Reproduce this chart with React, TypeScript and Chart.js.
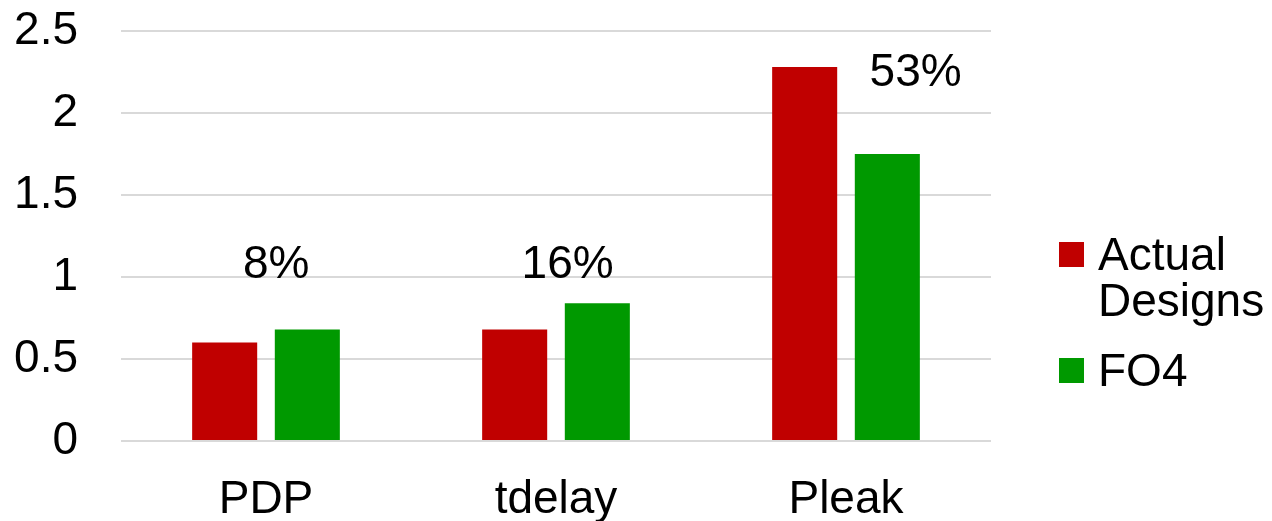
import React, { useEffect, useRef } from "react";
import { Chart, registerables } from "chart.js";

Chart.register(...registerables);

// Metrics compared on the x axis
const categories = ["PDP", "tdelay", "Pleak"];

// Series values
const actualDesigns = [0.6, 0.68, 2.28];
const fo4 = [0.68, 0.84, 1.75];

// Series names (legend)
const seriesNames = [["Actual", "Designs"], ["FO4"]];

// Y axis range and tick labels
const yMin = 0;
const yMax = 2.5;
const yStep = 0.5;
const yTickLabels = ["0", "0.5", "1", "1.5", "2", "2.5"];

// Difference labels written over each group
const gainLabels = ["8%", "16%", "53%"];
const gainLabelLevel = [1.07, 1.07, 2.24]; // y value where each label sits
const gainLabelShift = [0.035, 0.04, 0.24]; // horizontal shift, fraction of a category

const RED = "#c00000";
const GREEN = "#009900";
const FONT = "'Liberation Sans', Arial, sans-serif";
const FONT_SIZE = 46;

const gainLabelPlugin = {
  id: "gainLabels",
  afterDatasetsDraw(chart: any) {
    const { ctx, scales } = chart;
    const x = scales.x;
    const y = scales.y;
    const catWidth = x.width / categories.length;
    ctx.save();
    ctx.font = `${FONT_SIZE}px ${FONT}`;
    ctx.fillStyle = "#000";
    ctx.textAlign = "center";
    ctx.textBaseline = "middle";
    gainLabels.forEach((t, i) => {
      const px = x.getPixelForValue(i) + gainLabelShift[i] * catWidth;
      const py = y.getPixelForValue(gainLabelLevel[i]);
      ctx.fillText(t, px, py);
    });
    ctx.restore();
  },
};

const sideLegendPlugin = {
  id: "sideLegend",
  afterDraw(chart: any) {
    const { ctx, chartArea } = chart;
    const colors = [RED, GREEN];
    const box = 25;
    const boxX = chartArea.right + 68;
    const textX = chartArea.right + 107;
    const lineH = 46;
    const itemGap = 24;
    let baseline = chartArea.top + 239;
    ctx.save();
    ctx.font = `${FONT_SIZE}px ${FONT}`;
    ctx.fillStyle = "#000";
    ctx.textAlign = "left";
    ctx.textBaseline = "alphabetic";
    seriesNames.forEach((lines, i) => {
      ctx.fillStyle = colors[i];
      ctx.fillRect(boxX, baseline - 28, box, box);
      ctx.fillStyle = "#000";
      lines.forEach((line, j) => {
        ctx.fillText(line, textX, baseline + j * lineH);
      });
      baseline += lines.length * lineH + itemGap;
    });
    ctx.restore();
  },
};

export default function App() {
  const canvasRef = useRef<HTMLCanvasElement | null>(null);

  useEffect(() => {
    if (!canvasRef.current) return;
    const chart = new Chart(canvasRef.current, {
      type: "bar",
      data: {
        labels: categories,
        datasets: [
          {
            label: seriesNames[0].join(" "),
            data: actualDesigns,
            backgroundColor: RED,
            borderWidth: 0,
          },
          {
            label: seriesNames[1].join(" "),
            data: fo4,
            backgroundColor: GREEN,
            borderWidth: 0,
          },
        ],
      },
      options: {
        responsive: false,
        animation: false,
        layout: { padding: { left: 0, right: 281, top: 31, bottom: 0 } },
        datasets: {
          bar: { categoryPercentage: 0.57, barPercentage: 0.787 },
        },
        plugins: {
          legend: { display: false },
          tooltip: { enabled: false },
        },
        scales: {
          x: {
            grid: { display: false, drawTicks: false },
            border: { display: false },
            ticks: {
              color: "#000",
              font: { family: FONT, size: FONT_SIZE },
              padding: 32,
              maxRotation: 0,
            },
            afterFit: (s: any) => {
              s.height = 80;
              s.paddingLeft = 0;
              s.paddingRight = 0;
            },
          },
          y: {
            min: yMin,
            max: yMax,
            grid: { color: "#d9d9d9", lineWidth: 2, drawTicks: false },
            border: { display: false },
            ticks: {
              stepSize: yStep,
              color: "#000",
              font: { family: FONT, size: FONT_SIZE },
              padding: 43,
              callback: (_v: any, i: number) => yTickLabels[i],
            },
            afterFit: (s: any) => {
              s.width = 121;
              s.paddingTop = 0;
              s.paddingBottom = 0;
            },
          },
        },
      },
      plugins: [gainLabelPlugin, sideLegendPlugin],
    });
    return () => chart.destroy();
  }, []);

  return (
    <div style={{ position: "absolute", left: 0, top: 0, width: 1272, height: 521, background: "#fff" }}>
      <canvas ref={canvasRef} width={1272} height={521} />
    </div>
  );
}
